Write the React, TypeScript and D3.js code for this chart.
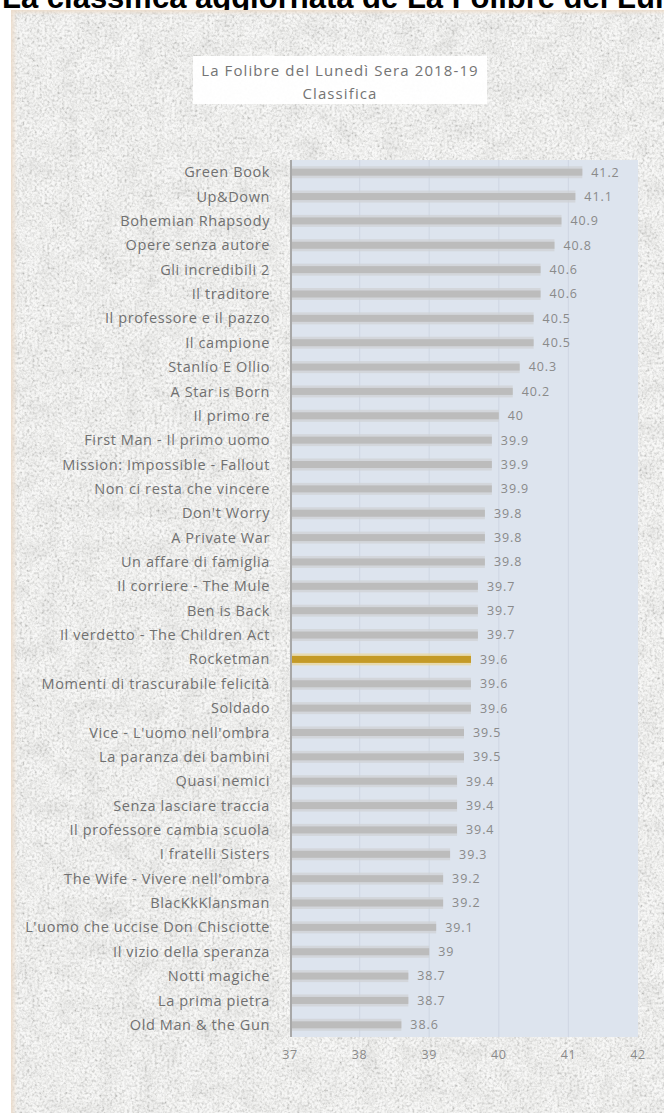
import React from "react";
import * as d3 from "d3";

const categories: string[] = [
  "Green Book",
  "Up&Down",
  "Bohemian Rhapsody",
  "Opere senza autore",
  "Gli incredibili 2",
  "Il traditore",
  "Il professore e il pazzo",
  "Il campione",
  "Stanlio E Ollio",
  "A Star is Born",
  "Il primo re",
  "First Man - Il primo uomo",
  "Mission: Impossible - Fallout",
  "Non ci resta che vincere",
  "Don't Worry",
  "A Private War",
  "Un affare di famiglia",
  "Il corriere - The Mule",
  "Ben is Back",
  "Il verdetto - The Children Act",
  "Rocketman",
  "Momenti di trascurabile felicità",
  "Soldado",
  "Vice - L'uomo nell'ombra",
  "La paranza dei bambini",
  "Quasi nemici",
  "Senza lasciare traccia",
  "Il professore cambia scuola",
  "I fratelli Sisters",
  "The Wife - Vivere nell'ombra",
  "BlacKkKlansman",
  "L'uomo che uccise Don Chisciotte",
  "Il vizio della speranza",
  "Notti magiche",
  "La prima pietra",
  "Old Man & the Gun",
];

const values: number[] = [
  41.2, 41.1, 40.9, 40.8, 40.6, 40.6, 40.5, 40.5, 40.3, 40.2, 40, 39.9, 39.9,
  39.9, 39.8, 39.8, 39.8, 39.7, 39.7, 39.7, 39.6, 39.6, 39.6, 39.5, 39.5, 39.4,
  39.4, 39.4, 39.3, 39.2, 39.2, 39.1, 39, 38.7, 38.7, 38.6,
];

const highlighted = "Rocketman";
const xTicks: number[] = [37, 38, 39, 40, 41, 42];
const xDomain: [number, number] = [37, 42];
const pageHeading = "La classifica aggiornata de La Folibre del Lunedì Sera";
const chartTitle = ["La Folibre del Lunedì Sera 2018-19", "Classifica"];

const W = 664;
const H = 1113;

export default function App() {
  const plot = { left: 290, right: 638, top: 160, bottom: 1037 };
  const x = d3.scaleLinear().domain(xDomain).range([plot.left, plot.right]);
  const y = d3
    .scaleBand<string>()
    .domain(categories)
    .range([plot.top, plot.bottom]);
  const bw = 7;
  const halo = 12;
  const labelFont = "'Open Sans', 'Liberation Sans', sans-serif";

  return (
    <svg
      width={W}
      height={H}
      viewBox={`0 0 ${W} ${H}`}
      style={{ position: "absolute", left: 0, top: 0, display: "block" }}
    >
      <defs>
        <filter id="paper" x="0" y="0" width="100%" height="100%">
          <feTurbulence
            type="fractalNoise"
            baseFrequency="0.4"
            numOctaves="2"
            seed="7"
            result="n"
          />
          <feColorMatrix
            in="n"
            type="matrix"
            values="1.1 1.1 0 0 -0.3  1.1 1.1 0 0 -0.3  1.1 1.1 0 0 -0.31  0 0 0 0 0.4"
          />
        </filter>
        <filter id="blotch" x="0" y="0" width="100%" height="100%">
          <feTurbulence
            type="fractalNoise"
            baseFrequency="0.05"
            numOctaves="2"
            seed="3"
            result="n"
          />
          <feColorMatrix
            in="n"
            type="matrix"
            values="0.8 0.8 0 0 0.05  0.8 0.8 0 0 0.05  0.8 0.8 0 0 0.04  0 0 0 0 0.25"
          />
        </filter>
        <linearGradient id="edgeL" x1="0" x2="1" y1="0" y2="0">
          <stop offset="0" stopColor="#ecdccb" stopOpacity="0.9" />
          <stop offset="1" stopColor="#ecdccb" stopOpacity="0" />
        </linearGradient>
        <linearGradient id="edgeT" x1="0" x2="0" y1="0" y2="1">
          <stop offset="0" stopColor="#ecdccb" stopOpacity="0.9" />
          <stop offset="1" stopColor="#ecdccb" stopOpacity="0" />
        </linearGradient>
      </defs>

      <rect x={0} y={0} width={W} height={H} fill="#ffffff" />
      <text
        x={2}
        y={8}
        fontFamily="'Liberation Sans', Arial, sans-serif"
        fontWeight="bold"
        fontSize={31}
        fill="#000"
      >
        {pageHeading}
      </text>

      {/* textured paper background */}
      <g>
        <rect x={11} y={10} width={W - 11} height={H - 10} fill="#efefed" />
        <rect
          x={11}
          y={10}
          width={W - 11}
          height={H - 10}
          filter="url(#blotch)"
        />
        <rect x={11} y={10} width={W - 11} height={H - 10} filter="url(#paper)" />
        <rect x={11} y={10} width={6} height={H - 10} fill="url(#edgeL)" />
        <rect x={11} y={10} width={W - 11} height={5} fill="url(#edgeT)" />
      </g>

      {/* title box */}
      <rect x={193} y={56} width={294} height={48} fill="#ffffff" opacity={0.95} />
      {chartTitle.map((t, i) => (
        <text
          key={t}
          x={340}
          y={71 + i * 23}
          dy="0.35em"
          textAnchor="middle"
          fontFamily={labelFont}
          fontSize={15}
          fill="#747474"
          letterSpacing={1.1}
        >
          {t}
        </text>
      ))}

      {/* plot background */}
      <rect
        x={plot.left}
        y={plot.top}
        width={plot.right - plot.left}
        height={plot.bottom - plot.top}
        fill="#dde4ee"
      />
      {xTicks
        .filter((t) => t > xDomain[0] && t < xDomain[1])
        .map((t) => (
          <line
            key={t}
            x1={x(t)}
            x2={x(t)}
            y1={plot.top}
            y2={plot.bottom}
            stroke="#d1d8e4"
            strokeWidth={1.2}
          />
        ))}

      {/* bars */}
      {categories.map((c, i) => {
        const v = values[i];
        const cy = (y(c) as number) + y.bandwidth() / 2;
        const hi = c === highlighted;
        return (
          <g key={c}>
            <rect
              x={x(xDomain[0])}
              y={cy - halo / 2}
              width={x(v) - x(xDomain[0])}
              height={halo}
              fill={hi ? "#ead79b" : "#cfd1d4"}
              opacity={0.75}
            />
            <rect
              x={x(xDomain[0])}
              y={cy - bw / 2}
              width={x(v) - x(xDomain[0])}
              height={bw}
              fill={hi ? "#c49a26" : "#bcbcbc"}
            />
            <text
              x={x(v) + 9}
              y={cy}
              dy="0.35em"
              fontFamily={labelFont}
              fontSize={12.5}
              fill="#8a8a8a"
              letterSpacing={0.9}
            >
              {String(v)}
            </text>
            <text
              x={270}
              y={cy}
              dy="0.35em"
              textAnchor="end"
              fontFamily={labelFont}
              fontSize={14.5}
              fill="#707070"
              letterSpacing={0.6}
            >
              {c}
            </text>
          </g>
        );
      })}

      {/* axis line */}
      <line
        x1={plot.left + 1}
        x2={plot.left + 1}
        y1={plot.top}
        y2={plot.bottom}
        stroke="#a8a8a8"
        strokeWidth={2}
      />

      {/* x tick labels */}
      {xTicks.map((t) => (
        <text
          key={t}
          x={x(t)}
          y={1055}
          dy="0.35em"
          textAnchor="middle"
          fontFamily={labelFont}
          fontSize={12.5}
          fill="#8a8a8a"
          letterSpacing={0.6}
        >
          {t}
        </text>
      ))}
    </svg>
  );
}
